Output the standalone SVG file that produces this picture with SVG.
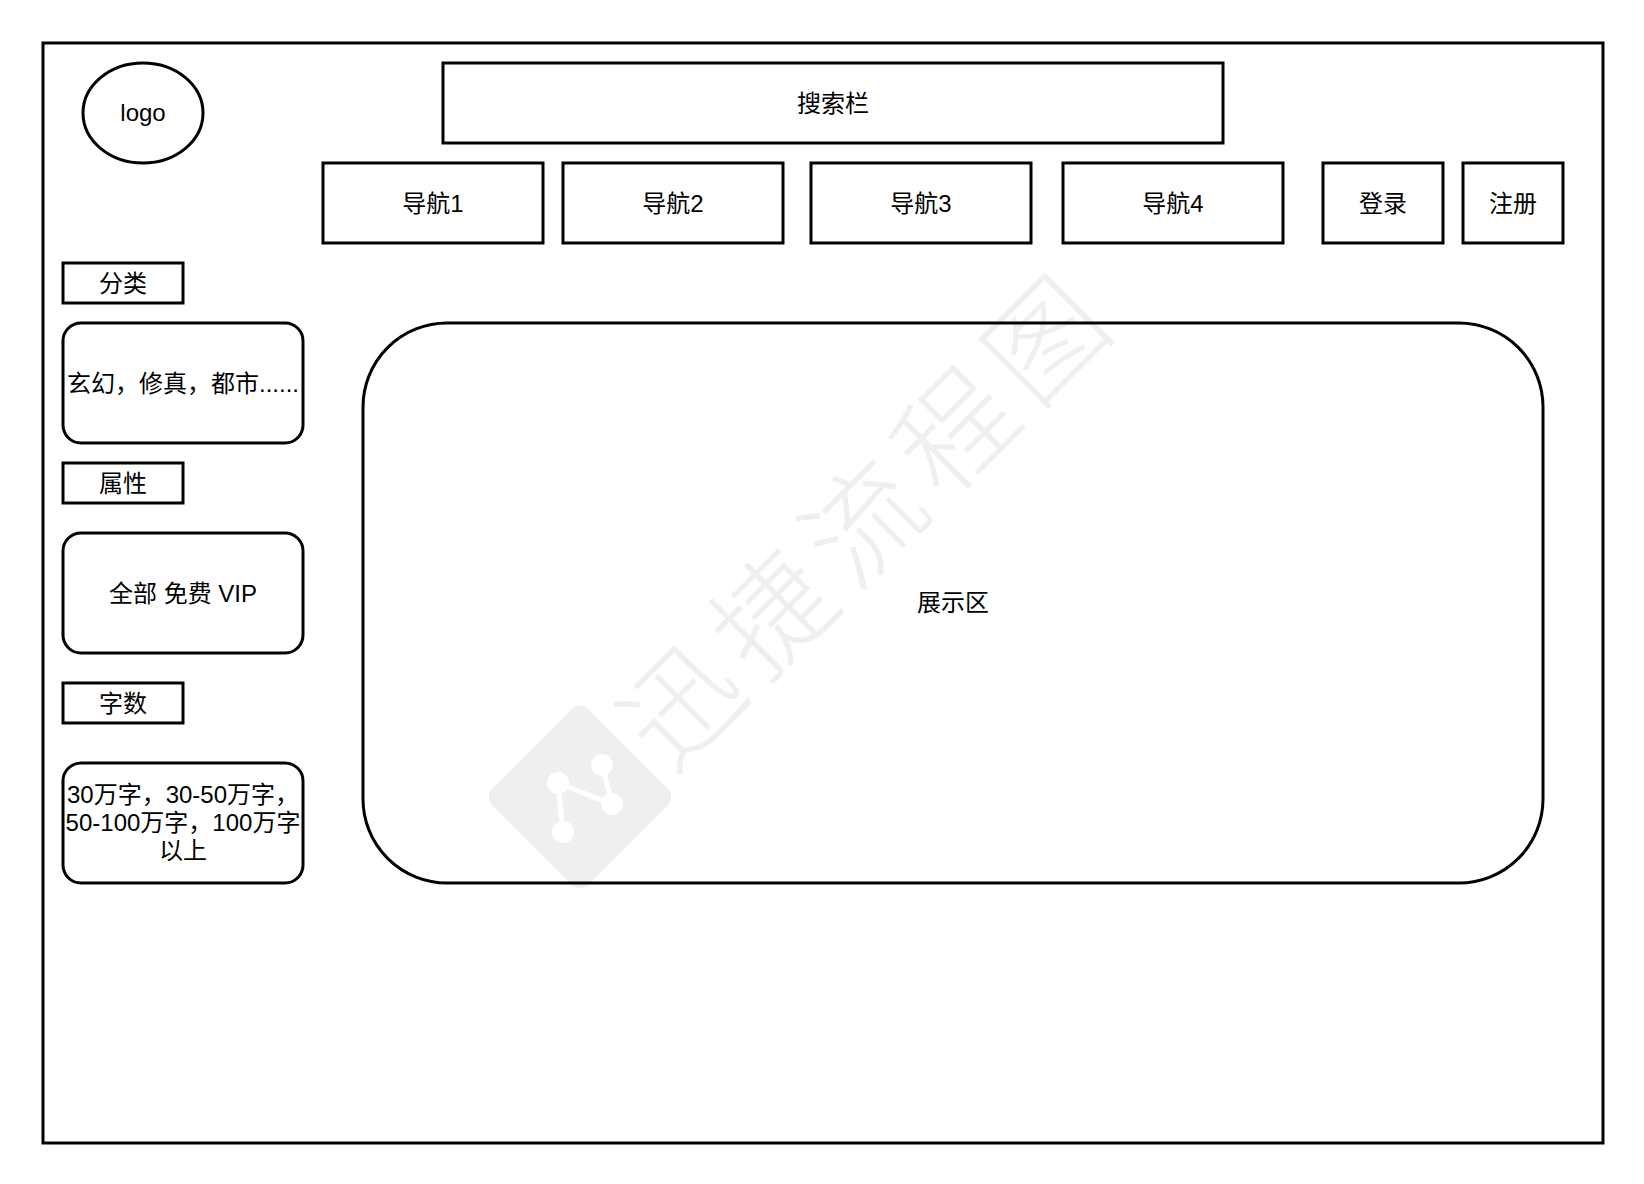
<svg xmlns="http://www.w3.org/2000/svg" width="1644" height="1184" viewBox="0 0 1644 1184">
<style>
.box{fill:#fff;stroke:#000;stroke-width:3}
.lbl{font-family:"Liberation Sans","Noto Sans CJK SC",sans-serif;font-size:24px;fill:#000;text-anchor:middle}
.wm{font-family:"Noto Sans CJK SC","Noto Sans CJK JP",sans-serif;font-size:115px;font-weight:300;fill:#efefef;text-anchor:middle;dominant-baseline:central}
</style>
<rect width="1644" height="1184" fill="#fff"/>
<g id="frame"><rect class="box" x="43" y="43" width="1560" height="1100"/></g>

<g id="watermark">
<rect x="512" y="729" width="136" height="136" rx="12" fill="#efefef" transform="rotate(45 580 797)"/>
<g stroke="#fff" stroke-width="5" fill="none">
<line x1="558" y1="783" x2="563" y2="832"/>
<line x1="558" y1="783" x2="612" y2="804"/>
<line x1="602" y1="765" x2="612" y2="804"/>
</g>
<g fill="#fff">
<circle cx="558" cy="783" r="11"/>
<circle cx="602" cy="765" r="11"/>
<circle cx="612" cy="804" r="11"/>
<circle cx="563" cy="832" r="11"/>
</g>
<g transform="translate(858 517) rotate(-45)">
<text class="wm" x="-258 -129 0 129 258" y="0">迅捷流程图</text>
</g>
</g>

<g id="logo"><ellipse class="box" cx="143" cy="113" rx="60" ry="50"/><text class="lbl" x="143" y="121">logo</text></g>
<g id="search"><rect class="box" x="443" y="63" width="780" height="80"/><text class="lbl" x="833" y="111.5">搜索栏</text></g>
<g id="nav1"><rect class="box" x="323" y="163" width="220" height="80"/><text class="lbl" x="433" y="211.5">导航1</text></g>
<g id="nav2"><rect class="box" x="563" y="163" width="220" height="80"/><text class="lbl" x="673" y="211.5">导航2</text></g>
<g id="nav3"><rect class="box" x="811" y="163" width="220" height="80"/><text class="lbl" x="921" y="211.5">导航3</text></g>
<g id="nav4"><rect class="box" x="1063" y="163" width="220" height="80"/><text class="lbl" x="1173" y="211.5">导航4</text></g>
<g id="login"><rect class="box" x="1323" y="163" width="120" height="80"/><text class="lbl" x="1383" y="211.5">登录</text></g>
<g id="register"><rect class="box" x="1463" y="163" width="100" height="80"/><text class="lbl" x="1513" y="211.5">注册</text></g>

<g id="cat-title"><rect class="box" x="63" y="263" width="120" height="40"/><text class="lbl" x="123" y="291.5">分类</text></g>
<g id="cat-box"><rect class="box" x="63" y="323" width="240" height="120" rx="18" ry="18"/><text class="lbl" x="183" y="391.5">玄幻，修真，都市......</text></g>
<g id="attr-title"><rect class="box" x="63" y="463" width="120" height="40"/><text class="lbl" x="123" y="491.5">属性</text></g>
<g id="attr-box"><rect class="box" x="63" y="533" width="240" height="120" rx="18" ry="18"/><text class="lbl" x="183" y="601.5">全部 免费 VIP</text></g>
<g id="words-title"><rect class="box" x="63" y="683" width="120" height="40"/><text class="lbl" x="123" y="711.5">字数</text></g>
<g id="words-box"><rect class="box" x="63" y="763" width="240" height="120" rx="18" ry="18"/>
<text class="lbl"><tspan x="183" y="803">30万字，30-50万字，</tspan><tspan x="183" y="831">50-100万字，100万字</tspan><tspan x="183" y="859">以上</tspan></text></g>

<g id="display"><rect class="box" x="363" y="323" width="1180" height="560" rx="84" ry="84" style="fill:none"/><text class="lbl" x="953" y="611">展示区</text></g>
<g id="connectors"/>
</svg>
